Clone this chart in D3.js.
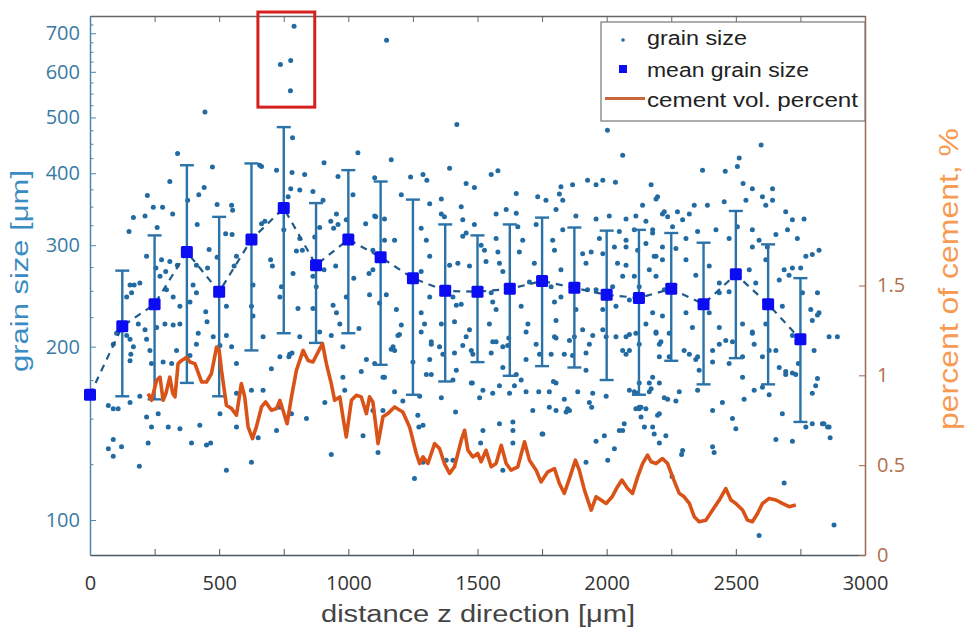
<!DOCTYPE html>
<html>
<head>
<meta charset="utf-8">
<script src="https://cdn.jsdelivr.net/npm/d3@7"></script>
<style>
  body { margin: 0; background: #fff; }
  svg { display: block; }
</style>
</head>
<body>
<svg id="chart" width="965" height="629"></svg>
<script>
// Mean grain size per 125 µm window, with lower / upper bounds of the spread
const meanDistance = [0, 125, 250, 375, 500, 625, 750, 875, 1000, 1125, 1250, 1375, 1500,
  1625, 1750, 1875, 2000, 2125, 2250, 2375, 2500, 2625, 2750];
const meanSize = [165, 217, 237, 292, 249, 307, 348, 277, 307, 286, 263, 250, 249,
  252, 260, 253, 246, 243, 252, 237, 267, 237, 206];
const sizeLow = [null, 164, 162, 173, 164, 197, 211, 203, 211, 186, 165, 174, 188,
  178, 185, 184, 175, 165, 189, 172, 191, 172, 148];
const sizeHigh = [null, 271, 312, 413, 336, 416, 481, 355, 405, 387, 360, 326, 312,
  326, 335, 322, 318, 319, 315, 303, 344, 301, 263];

// Individual grains: [distance z (µm), grain size (µm)]
const grainPoints = [
  [339,433],[1037,434],[474,410],[906,417],[664,411],[309,387],[782,401],[722,405],[831,398],[960,395],
  [1102,393],[222,366],[421,367],[442,378],[492,353],[548,352],[552,345],[245,349],[281,349],[320,340],
  [168,335],[213,337],[378,359],[777,376],[812,374],[863,372],[902,359],[767,364],[677,330],[664,327],
  [954,340],[932,330],[960,326],[992,332],[943,321],[1067,327],[1106,336],[151,317],[260,322],[415,326],
  [525,314],[550,313],[657,413],[750,319],[812,308],[889,322],[870,310],[1018,367],[219,287],[277,283],
  [309,281],[338,277],[255,274],[293,270],[271,265],[461,295],[492,286],[567,287],[558,276],[455,274],
  [412,277],[699,283],[706,276],[799,293],[822,294],[786,268],[863,265],[906,272],[951,276],[1021,263],
  [1080,268],[1095,294],[155,256],[171,256],[193,258],[142,244],[161,248],[296,251],[322,244],[399,256],
  [412,248],[387,239],[348,235],[448,230],[453,221],[631,256],[625,235],[631,226],[528,235],[741,254],
  [735,244],[805,233],[876,254],[863,233],[941,236],[992,244],[1082,246],[1121,238],[954,229],[967,219],
  [1041,215],[90,202],[103,211],[142,209],[155,206],[168,200],[158,194],[155,189],[187,219],[213,214],
  [219,206],[258,216],[290,219],[322,218],[348,219],[232,197],[238,187],[283,188],[316,187],[335,197],
  [387,193],[419,211],[412,202],[477,208],[528,209],[503,201],[548,200],[567,187],[670,208],[702,183],
  [735,192],[773,194],[812,208],[889,212],[934,209],[979,200],[979,177],[1050,181],[1070,190],[1102,187],
  [71,158],[90,156],[109,156],[155,160],[193,164],[219,151],[238,145],[264,153],[303,145],[393,136],
  [425,146],[503,153],[567,166],[625,168],[670,168],[735,157],[760,150],[780,153],[838,150],[909,160],
  [986,168],[1057,140],[1095,155],[90,138],[122,134],[225,136],[348,144],[451,135],[567,145],[651,139],
  [722,143],
  [71,133],[90,129],[191,124],[467,136],[528,122],[625,126],[934,130],[1115,131],[1256,118],[1289,126],
  [1415,154],[1360,163],[1273,145],[1269,152],[1134,155],[1179,167],[770,192],[782,195],[1321,202],[1366,194],
  [1411,195],[1418,182],[1443,201],[1456,208],[1482,194],[1476,173],[1321,179],[1302,179],[1198,210],[1173,200],
  [1250,188],[1379,127],
  [1559,204],[1553,195],[1617,201],[1621,207],[1688,212],[1740,194],[1804,207],[1836,194],[1875,208],[1920,195],
  [1946,209],[1998,208],[2075,194],[2088,210],[2126,202],[2204,202],[2242,211],[2320,194],[2352,192],[2410,188],
  [2436,202],[2487,204],[2526,192],[2564,211],[2629,197],[2719,209],[2803,197],[2861,208],[2893,208],[2693,179],
  [2732,179],[2742,187],[2816,176],[2809,171],[2796,147],[2841,147],[2861,145],[2865,139],[2680,153],[2655,138],
  [2719,137],[2687,116],[2590,94],[2880,98],[2629,165],[2603,170],[2532,162],[2500,144],[2487,150],[2448,160],
  [2410,155],[2416,131],[2410,134],[2352,168],[2281,167],[2268,161],[2236,162],[2294,132],[2290,130],[2253,119],
  [2204,153],[2197,152],[2178,145],[2184,141],[2204,136],[2229,140],[2152,156],[2126,156],[2133,151],[2146,145],
  [2165,167],[2172,169],[2107,167],[2120,166],[2068,147],[2049,143],[2062,143],[1959,137],[1991,140],[2030,133],
  [2004,127],[1920,126],[1942,157],[1946,166],[1888,167],[1849,156],[1843,154],[1836,162],[1778,157],[1778,167],
  [1737,167],[1750,141],[1804,173],[1794,174],[1669,175],[1643,171],[1637,148],[1637,143],[1585,147],[1598,122],
  [1521,143],[1512,136],[1559,166],[1521,168],[1480,173],[1405,127],[1688,167],[1727,202],
  [1166,422],[1392,408],[1553,398],[1579,404],[1456,384],[1488,378],[1650,369],[1241,394],[1289,398],[1304,389],
  [1205,367],[1315,354],[1360,361],[1360,340],[1372,336],[1437,350],[1443,332],[1488,326],[1572,340],[1611,346],
  [1650,341],[1733,364],[1765,359],[1804,346],[1817,368],[1823,379],[1830,359],[1868,382],[1926,389],[1959,382],
  [1985,389],[2034,386],[2062,430],[2172,382],[2191,361],[2223,343],[1881,337],[1959,333],[2010,337],[2049,317],
  [2113,337],[2139,352],[2075,333],[1102,337],[1140,333],[1140,306],[1179,306],[1095,272],[1147,246],[1186,232],
  [1205,218],[1192,209],[1140,177],[1166,198],[1179,197],[1282,321],[1302,306],[1315,287],[1282,270],[1315,244],
  [1282,229],[1295,219],[1282,212],[1321,204],[1315,190],[1353,200],[1360,219],[1405,244],[1418,236],[1437,237],
  [1411,221],[1392,277],[1424,279],[1456,315],[1443,311],[1469,276],[1533,281],[1527,294],[1514,300],[1572,308],
  [1579,292],[1585,279],[1598,270],[1553,248],[1559,239],[1572,232],[1546,219],[1469,214],[1476,197],[1572,204],
  [1598,200],[1598,184],[1650,179],[1688,190],[1695,219],[1669,235],[1701,259],[1720,279],[1662,292],[1675,306],
  [1656,323],[1727,326],[1791,306],[1830,319],[1798,294],[1823,272],[1785,254],[1798,239],[1823,244],[1804,222],
  [1798,208],[1785,194],[1856,205],[1868,193],[1907,214],[1933,202],[1920,182],[1881,232],[1926,251],[1907,290],
  [1940,292],[1920,279],[1972,308],[1985,290],[2030,298],[2075,298],[2042,279],[2062,265],[2023,254],[1959,251],
  [1985,232],[2036,235],[1985,214],[2036,208],[2062,197],[2113,211],[2152,219],[2191,212],[2210,204],[2204,192],
  [2165,173],[2133,157],[2120,294],[2152,302],[2184,287],[2216,298],[2191,265],[2223,251],[2126,254],[2178,315],
  [2107,319],[1134,177],[1211,161],[1276,164],[1405,175],[1508,163],[1585,171],[1624,166],[1714,155],[1804,155],
  [1856,155],[1933,160],[1998,164],[2088,168],[2113,156],[2204,173],[2223,163],[1289,146],[1753,141],[1637,136],
  [2513,425],[2506,411],[2371,405],[2459,403],[2528,384],[2564,376],[2642,376],[2642,359],[2603,364],[2539,359],
  [2616,352],[2390,352],[2455,357],[2339,352],[2320,340],[2274,343],[2216,340],[2197,364],[2764,333],[2693,343],
  [2719,332],[2700,319],[2738,308],[2822,294],[2771,287],[2796,289],[2751,274],[2719,274],[2687,272],[2706,266],
  [2758,248],[2816,248],[2790,232],[2816,227],[2796,222],[2693,181],[2719,180],[2796,166],[2835,147],[2855,145],
  [2771,145],[2075,306],[2152,330],[2178,319],[2236,336],[2255,323],[2294,332],[2307,308],[2352,317],[2423,319],
  [2474,308],[2506,323],[2564,319],[2590,306],[2622,298],[2655,313],[2564,298],[2075,277],[2107,265],[2165,272],
  [2191,287],[2216,283],[2268,296],[2307,283],[2345,266],[2397,276],[2436,258],[2552,272],[2577,258],[2616,283],
  [2668,261],[2474,249],[2436,248],[2088,241],[2178,229],[2216,226],[2307,229],[2332,216],[2397,229],[2436,216],
  [2526,219],[2564,212],[2616,219],[2680,235],[2075,208],[2088,197],[2191,211],[2242,192],[2300,197],[2345,190],
  [2410,197],[2461,205],[2474,187],[2571,202],[2603,192],[2655,197],[2668,184],[2358,182],[2526,177],[2571,168],
  [2126,173],[2178,177],[2126,157],[2822,229],
  [790,720],[737,618],[777,628],[776,556],[1148,681],[1420,486],[784,461],[445,511],[2003,475],[2598,448]
];

// Cement volume percentage along z
const cementDistance = [225,238,258,271,283,294,303,309,320,329,341,355,374,387,406,432,451,470,490,500,
  509,528,548,567,586,599,612,629,644,664,680,702,722,735,747,763,780,799,825,844,
  863,883,900,915,934,947,967,979,992,1012,1031,1050,1070,1082,1095,1115,1134,1153,1179,1211,
  1237,1263,1276,1289,1308,1334,1353,1372,1392,1411,1437,1450,1463,1482,1501,1514,1533,1553,1572,1592,
  1611,1630,1656,1682,1701,1727,1746,1772,1798,1817,1836,1858,1879,1894,1914,1940,1959,1978,1998,2021,
  2042,2059,2081,2100,2120,2139,2158,2172,2191,2216,2236,2255,2281,2300,2320,2339,2358,2384,2410,2436,
  2461,2481,2500,2526,2545,2564,2584,2603,2629,2655,2680,2706,2732];
const cementPercent = [0.898,0.861,0.972,0.99,0.861,0.9,0.955,0.99,0.9,0.88,1.065,1.083,1.1,1.074,1.065,0.963,0.963,1.009,1.157,1.139,
  1.028,0.833,0.815,0.778,0.954,0.88,0.713,0.648,0.713,0.824,0.852,0.806,0.815,0.861,0.806,0.731,0.88,1.028,1.139,1.083,
  1.074,1.13,1.176,1.065,0.954,0.861,0.88,0.769,0.657,0.861,0.889,0.88,0.787,0.88,0.852,0.62,0.769,0.787,0.824,0.796,
  0.713,0.565,0.509,0.546,0.509,0.62,0.593,0.509,0.454,0.491,0.639,0.694,0.583,0.546,0.565,0.519,0.583,0.491,0.509,0.611,
  0.509,0.472,0.491,0.63,0.528,0.472,0.407,0.463,0.481,0.398,0.343,0.435,0.528,0.472,0.361,0.25,0.324,0.306,0.287,0.324,
  0.38,0.417,0.37,0.343,0.435,0.509,0.556,0.519,0.509,0.537,0.509,0.435,0.343,0.324,0.287,0.213,0.185,0.194,0.25,0.306,
  0.37,0.306,0.287,0.25,0.194,0.185,0.231,0.287,0.315,0.306,0.287,0.269,0.278];

// Axis ticks
const xTicks = [0, 250, 500, 750, 1000, 1250, 1500, 1750, 2000, 2250, 2500, 2750, 3000];
const sizeTicks = [100, 200, 300, 400, 500, 600, 700];
const sizeMinorTicks = d3.range(125, 750, 25).filter(v => v % 100 !== 0);
const cementTicks = [0, 0.5, 1, 1.5];

// Corners of the highlight frame around the largest grains: [distance, size]
const highlightCorners = [[650, 762], [870, 521]];

const svg = d3.select("#chart");
const plotLeft = 90, plotRight = 865, plotTop = 16, plotBottom = 555;

const x = d3.scaleLinear().domain([0, 3000]).range([plotLeft, plotRight]);
const ySize = d3.scaleLog().domain([86.95, 750]).range([plotBottom, plotTop]);
const yCement = d3.scaleLinear().domain([0, 3]).range([plotBottom, plotTop]);

const tickFont = "'Open Sans', 'DejaVu Sans', sans-serif";
const labelFont = "'Liberation Sans', Arial, sans-serif";

// Axes
const bottomAxis = svg.append("g")
  .attr("transform", `translate(0,${plotBottom})`)
  .call(d3.axisBottom(x).tickValues(xTicks).tickSize(-6).tickSizeOuter(0).tickPadding(21)
    .tickFormat(d => d % 500 === 0 ? d : ""));
bottomAxis.select(".domain").attr("stroke", "#4d5a66").attr("stroke-width", 1.3);
bottomAxis.selectAll(".tick line").attr("stroke", "#4d5a66");
bottomAxis.selectAll("text").attr("fill", "#333").style("font-family", tickFont).style("font-size", "20px");

const topAxis = svg.append("g")
  .attr("transform", `translate(0,${plotTop})`)
  .call(d3.axisTop(x).tickValues(xTicks).tickSize(-6).tickSizeOuter(0).tickFormat(""));
topAxis.select(".domain").attr("stroke", "#666").attr("stroke-width", 1.3);
topAxis.selectAll(".tick line").attr("stroke", "#666");

const leftMinor = svg.append("g")
  .attr("transform", `translate(${plotLeft},0)`)
  .call(d3.axisLeft(ySize).tickValues(sizeMinorTicks).tickSize(-3.5).tickSizeOuter(0).tickFormat(""));
leftMinor.select(".domain").remove();
leftMinor.selectAll(".tick line").attr("stroke", "#4f87aa");

const leftAxis = svg.append("g")
  .attr("transform", `translate(${plotLeft},0)`)
  .call(d3.axisLeft(ySize).tickValues(sizeTicks).tickSize(-6).tickSizeOuter(0).tickPadding(10)
    .tickFormat(d3.format("d")));
leftAxis.select(".domain").attr("stroke", "#4f87aa").attr("stroke-width", 1.5);
leftAxis.selectAll(".tick line").attr("stroke", "#4f87aa");
leftAxis.selectAll("text").attr("fill", "#3a7ba3").style("font-family", tickFont).style("font-size", "20px");

const rightAxis = svg.append("g")
  .attr("transform", `translate(${plotRight},0)`)
  .call(d3.axisRight(yCement).tickValues(cementTicks).tickSize(-6).tickSizeOuter(0).tickPadding(12)
    .tickFormat(d => String(d)));
rightAxis.select(".domain").attr("stroke", "#9c6a52").attr("stroke-width", 1.5);
rightAxis.selectAll(".tick line").attr("stroke", "#9c6a52");
rightAxis.selectAll("text").attr("fill", "#b0704f").style("font-family", tickFont).style("font-size", "20px");

// Axis titles
svg.append("text")
  .attr("x", 478).attr("y", 622)
  .attr("text-anchor", "middle")
  .attr("textLength", 314).attr("lengthAdjust", "spacingAndGlyphs")
  .style("font-family", labelFont).style("font-size", "23px").attr("fill", "#444")
  .text("distance z direction [μm]");

svg.append("text")
  .attr("transform", "translate(28,271) rotate(-90)")
  .attr("text-anchor", "middle")
  .attr("textLength", 202).attr("lengthAdjust", "spacingAndGlyphs")
  .style("font-family", labelFont).style("font-size", "23px").attr("fill", "#3a8cc2")
  .text("grain size [μm]");

svg.append("text")
  .attr("transform", "translate(958,279) rotate(-90)")
  .attr("text-anchor", "middle")
  .attr("textLength", 302).attr("lengthAdjust", "spacingAndGlyphs")
  .style("font-family", labelFont).style("font-size", "27px").attr("fill", "#f79a52")
  .text("percent of cement, %");

// Grain scatter
svg.append("g").selectAll("circle")
  .data(grainPoints)
  .join("circle")
  .attr("cx", d => x(d[0]))
  .attr("cy", d => ySize(d[1]))
  .attr("r", 2.5)
  .attr("fill", "#226ba2");

// Spread bars
const bars = svg.append("g").attr("stroke", "#2a72a8").attr("stroke-width", 2.4).attr("fill", "none");
meanDistance.forEach((d, i) => {
  if (sizeLow[i] == null) return;
  const cx = x(d);
  bars.append("line").attr("x1", cx).attr("x2", cx).attr("y1", ySize(sizeLow[i])).attr("y2", ySize(sizeHigh[i]));
  bars.append("line").attr("x1", cx - 7).attr("x2", cx + 7).attr("y1", ySize(sizeLow[i])).attr("y2", ySize(sizeLow[i]));
  bars.append("line").attr("x1", cx - 7).attr("x2", cx + 7).attr("y1", ySize(sizeHigh[i])).attr("y2", ySize(sizeHigh[i]));
});

// Cement volume percent curve
svg.append("path")
  .datum(cementDistance.map((d, i) => [d, cementPercent[i]]))
  .attr("fill", "none")
  .attr("stroke", "#d95319")
  .attr("stroke-width", 3.6)
  .attr("stroke-linejoin", "round")
  .attr("d", d3.line().x(d => x(d[0])).y(d => yCement(d[1])));

// Dashed trend through the means
svg.append("path")
  .datum(meanDistance.map((d, i) => [d, meanSize[i]]))
  .attr("fill", "none")
  .attr("stroke", "#1f5a88")
  .attr("stroke-width", 2.2)
  .attr("stroke-dasharray", "7,6")
  .attr("d", d3.line().x(d => x(d[0])).y(d => ySize(d[1])));

// Mean markers
svg.append("g").selectAll("rect")
  .data(meanDistance.map((d, i) => [d, meanSize[i]]))
  .join("rect")
  .attr("x", d => x(d[0]) - 6)
  .attr("y", d => ySize(d[1]) - 6)
  .attr("width", 12).attr("height", 12)
  .attr("rx", 1.5)
  .attr("fill", "#0c0cf2");

// Highlight frame
svg.append("rect")
  .attr("x", x(highlightCorners[0][0])).attr("y", ySize(highlightCorners[0][1]))
  .attr("width", x(highlightCorners[1][0]) - x(highlightCorners[0][0]))
  .attr("height", ySize(highlightCorners[1][1]) - ySize(highlightCorners[0][1]))
  .attr("fill", "none").attr("stroke", "#d61f1f").attr("stroke-width", 3);

// Legend
const lg = svg.append("g");
lg.append("rect").attr("x", 601).attr("y", 22).attr("width", 264).attr("height", 99)
  .attr("fill", "#fff").attr("stroke", "#777").attr("stroke-width", 1.2);
lg.append("circle").attr("cx", 623).attr("cy", 40).attr("r", 1.8).attr("fill", "#226ba2");
lg.append("rect").attr("x", 619).attr("y", 65).attr("width", 8).attr("height", 8).attr("fill", "#0c0cf2");
lg.append("line").attr("x1", 605).attr("x2", 645).attr("y1", 98.5).attr("y2", 98.5)
  .attr("stroke", "#c8663e").attr("stroke-width", 3);
const legendItems = [["grain size", 44.5, 100], ["mean grain size", 76.5, 162], ["cement vol. percent", 106.5, 211]];
legendItems.forEach(([t, y, w]) => {
  lg.append("text").attr("x", 647).attr("y", y)
    .attr("textLength", w).attr("lengthAdjust", "spacingAndGlyphs")
    .style("font-family", labelFont).style("font-size", "20px").attr("fill", "#222")
    .text(t);
});
</script>
</body>
</html>
